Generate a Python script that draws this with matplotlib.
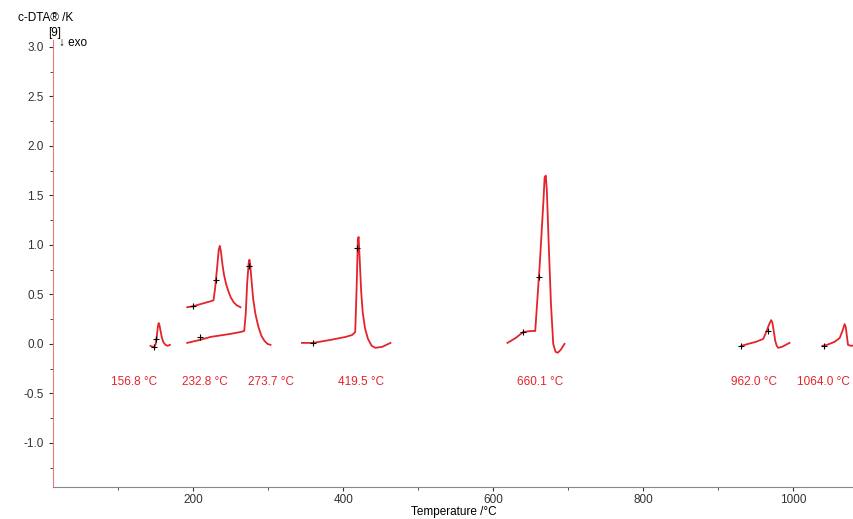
import numpy as np
import matplotlib
matplotlib.use('Agg')
import matplotlib.pyplot as plt
from matplotlib.ticker import MultipleLocator

plt.rcParams['font.family'] = ['Liberation Sans', 'DejaVu Sans']
plt.rcParams['axes.unicode_minus'] = False

# Кривые c-DTA (температура, сигнал)
in_T = [143, 146, 148, 150, 151.5, 153, 154, 155, 156.5, 158, 160, 163, 166, 169]
in_v = [-0.02, -0.03, -0.03, 0.0, 0.08, 0.18, 0.21, 0.19, 0.13, 0.07, 0.02, -0.01, -0.02, -0.01]

sn_T = [192, 200, 209, 223, 227, 229, 232, 234, 235.5, 237, 239, 241, 244, 247, 250, 254, 258, 263]
sn_v = [0.37, 0.38, 0.40, 0.43, 0.44, 0.55, 0.78, 0.95, 0.99, 0.93, 0.80, 0.70, 0.60, 0.53, 0.47, 0.42, 0.39, 0.37]

bi_T = [192, 209, 223, 249, 263, 268, 270, 272, 274, 275, 276, 278, 280, 283, 287, 291, 295, 299, 303]
bi_v = [0.01, 0.04, 0.07, 0.10, 0.12, 0.13, 0.30, 0.62, 0.82, 0.85, 0.80, 0.62, 0.45, 0.30, 0.17, 0.08, 0.03, 0.0, -0.01]

zn_T = [345, 360, 383, 403, 412, 416, 418, 419.5, 420.5, 422, 424, 426, 429, 433, 438, 443, 452, 463]
zn_v = [0.01, 0.01, 0.04, 0.07, 0.09, 0.12, 0.60, 1.05, 1.08, 0.85, 0.52, 0.32, 0.16, 0.05, -0.02, -0.04, -0.03, 0.01]

al_T = [619, 630, 640, 650, 656, 662, 667, 668.5, 670, 671.5, 674, 677, 680, 683, 686, 690, 695]
al_v = [0.01, 0.06, 0.12, 0.13, 0.13, 0.80, 1.45, 1.68, 1.70, 1.55, 1.00, 0.40, 0.0, -0.08, -0.09, -0.06, 0.0]

ag_T = [931, 940, 950, 960, 964, 968, 970.5, 972, 974, 976, 978, 980, 985, 995]
ag_v = [-0.02, 0.0, 0.02, 0.05, 0.12, 0.20, 0.24, 0.22, 0.13, 0.03, -0.02, -0.04, -0.03, 0.01]

au_T = [1039, 1045, 1055, 1062, 1066, 1068.5, 1070, 1071.5, 1073, 1077, 1085]
au_v = [-0.02, -0.01, 0.02, 0.06, 0.14, 0.20, 0.17, 0.08, -0.01, -0.02, -0.01]

# Метки (крестики) на кривых
mark_T = [148, 151, 200, 230, 209, 274, 360, 419, 640, 661, 931, 966, 1041]
mark_v = [-0.03, 0.05, 0.38, 0.65, 0.07, 0.79, 0.01, 0.97, 0.12, 0.68, -0.02, 0.13, -0.02]

# Подписи температур начала пиков
lab_T = [121, 216, 304, 424, 663, 948, 1040]
lab_text = ['156.8 °C', '232.8 °C', '273.7 °C', '419.5 °C', '660.1 °C', '962.0 °C', '1064.0 °C']

red = '#e3242b'

fig = plt.figure(figsize=(8.54, 5.19), dpi=100)
ax = fig.add_axes([0.062, 0.062, 0.938, 0.861])

for T, v in [(in_T, in_v), (sn_T, sn_v), (bi_T, bi_v), (zn_T, zn_v),
             (al_T, al_v), (ag_T, ag_v), (au_T, au_v)]:
    ax.plot(T, v, color=red, lw=1.3)

ax.plot(mark_T, mark_v, '+', color='black', ms=5, mew=0.8)

for T, s in zip(lab_T, lab_text):
    ax.text(T, -0.39, s, color=red, fontsize=8.5, ha='center', va='center')

ax.set_xlim(13, 1081)
ax.set_ylim(-1.444, 3.07)
ax.xaxis.set_major_locator(MultipleLocator(200))
ax.xaxis.set_minor_locator(MultipleLocator(100))
ax.yaxis.set_minor_locator(MultipleLocator(0.25))
ax.set_yticks(np.arange(-1.0, 3.01, 0.5))

ax.spines['top'].set_visible(False)
ax.spines['right'].set_visible(False)
ax.spines['left'].set_color('#e87a7a')
ax.spines['bottom'].set_color('#888888')
ax.tick_params(axis='both', which='both', direction='out', labelsize=8.5, colors='#333333')
ax.tick_params(axis='both', which='major', length=3)
ax.tick_params(axis='both', which='minor', length=2)
ax.tick_params(axis='x', pad=2)

ax.set_xlabel('Temperature /°C', fontsize=8.5, labelpad=0)

fig.text(0.021, 0.966, 'c-DTA® /K', fontsize=8.5, va='center')
fig.text(0.056, 0.936, '[9]', fontsize=8.5, va='center')
fig.text(0.069, 0.918, '↓ exo', fontsize=8.5, va='center')

fig.savefig('out.png', dpi=100)
